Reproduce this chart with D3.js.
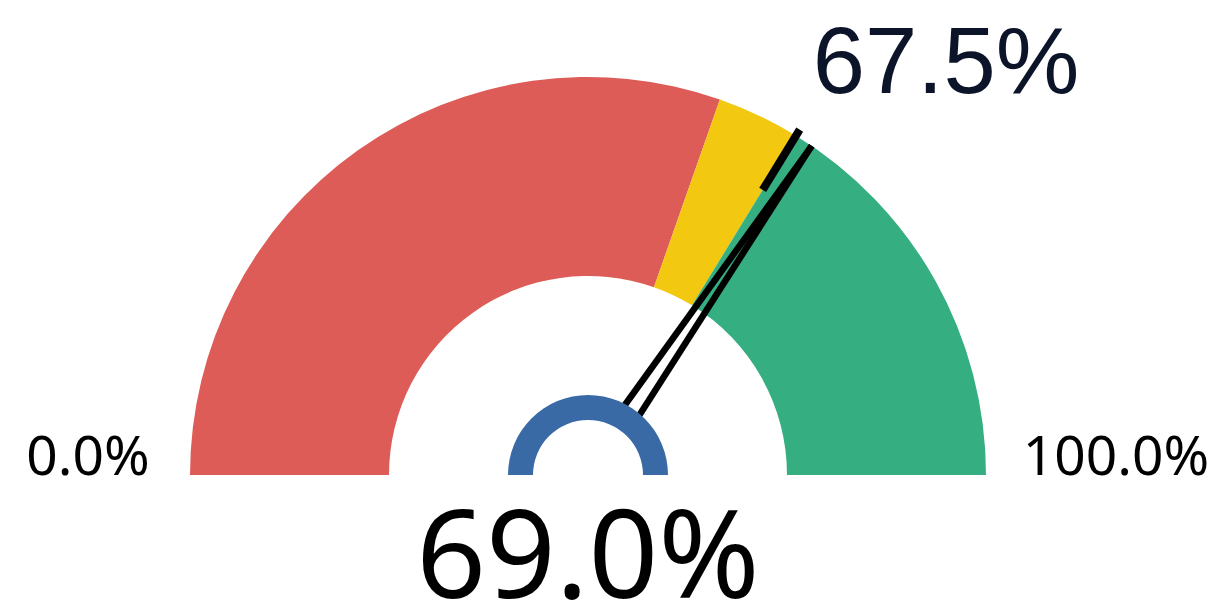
<!DOCTYPE html>
<html>
<head>
<meta charset="utf-8">
<script src="https://cdn.jsdelivr.net/npm/d3@7"></script>
<style>
  html, body { margin: 0; padding: 0; background: #fff; }
  svg { display: block; }
</style>
</head>
<body>
<svg id="chart" width="1220" height="606"></svg>
<script>
// gauge data
const gaugeMin = 0
const gaugeMax = 100
const gaugeValue = 69.0
const gaugeTarget = 67.5
// bands: red below 90% of target, yellow up to target, green above
const bandStops = [0, 60.75, 67.5, 100]
const bandColors = ["#dd5c57", "#f2c811", "#35ae81"]
const minLabel = "0.0%"
const maxLabel = "100.0%"

const fmt = d3.format(".1f")

const width = 1220, height = 606
const cx = 588, cy = 475
const outerR = 398, innerR = 199

const svg = d3.select("#chart")
const g = svg.append("g").attr("transform", `translate(${cx},${cy})`)

const angle = d3.scaleLinear()
  .domain([gaugeMin, gaugeMax])
  .range([-Math.PI / 2, Math.PI / 2])

const arc = d3.arc()
  .innerRadius(innerR)
  .outerRadius(outerR)

const bands = d3.range(bandColors.length).map(i => ({
  start: bandStops[i], end: bandStops[i + 1], color: bandColors[i]
}))

g.selectAll("path.band")
  .data(bands)
  .enter()
  .append("path")
  .attr("class", "band")
  .attr("d", d => arc({ startAngle: angle(d.start), endAngle: angle(d.end) }))
  .attr("fill", d => d.color)

// point on radius r at value v, offset sideways by off
const pt = (v, r, off = 0) => {
  const a = angle(v)
  return [Math.sin(a) * r + Math.cos(a) * off, -Math.cos(a) * r + Math.sin(a) * off]
}

// needle: two sides of a thin wedge, hub hides the base
const needleBase = 11
const needleStart = 70
const sideOff = needleBase * (1 - needleStart / outerR)
const apex = pt(gaugeValue, outerR)
g.selectAll("line.needle")
  .data([sideOff, -sideOff])
  .enter()
  .append("line")
  .attr("class", "needle")
  .attr("x1", d => pt(gaugeValue, needleStart, d)[0])
  .attr("y1", d => pt(gaugeValue, needleStart, d)[1])
  .attr("x2", apex[0])
  .attr("y2", apex[1])
  .attr("stroke", "#000")
  .attr("stroke-width", 6.5)

// hub ring
g.append("path")
  .attr("d", d3.arc().innerRadius(55).outerRadius(80)({ startAngle: -Math.PI / 2, endAngle: Math.PI / 2 }))
  .attr("fill", "#3a6aa6")

// target marker
g.append("line")
  .attr("x1", pt(gaugeTarget, outerR * 0.84)[0])
  .attr("y1", pt(gaugeTarget, outerR * 0.84)[1])
  .attr("x2", pt(gaugeTarget, outerR * 1.018)[0])
  .attr("y2", pt(gaugeTarget, outerR * 1.018)[1])
  .attr("stroke", "#000")
  .attr("stroke-width", 8)

// labels
svg.append("text")
  .attr("x", 88).attr("y", 475)
  .attr("text-anchor", "middle")
  .style("font-family", "'Noto Sans', sans-serif")
  .style("font-size", "55px")
  .text(minLabel)

svg.append("text")
  .attr("x", 1116).attr("y", 475)
  .attr("text-anchor", "middle")
  .style("font-family", "'Noto Sans', sans-serif")
  .style("font-size", "55px")
  .text(maxLabel)

svg.append("text")
  .attr("x", cx).attr("y", 598)
  .attr("text-anchor", "middle")
  .style("font-family", "'Noto Sans', sans-serif")
  .style("font-size", "122px")
  .text(fmt(gaugeValue) + "%")

svg.append("text")
  .attr("x", 946).attr("y", 93)
  .attr("text-anchor", "middle")
  .style("font-family", "'Liberation Sans', Arial, sans-serif")
  .style("font-size", "94px")
  .style("fill", "#0b1428")
  .text(fmt(gaugeTarget) + "%")
</script>
</body>
</html>
